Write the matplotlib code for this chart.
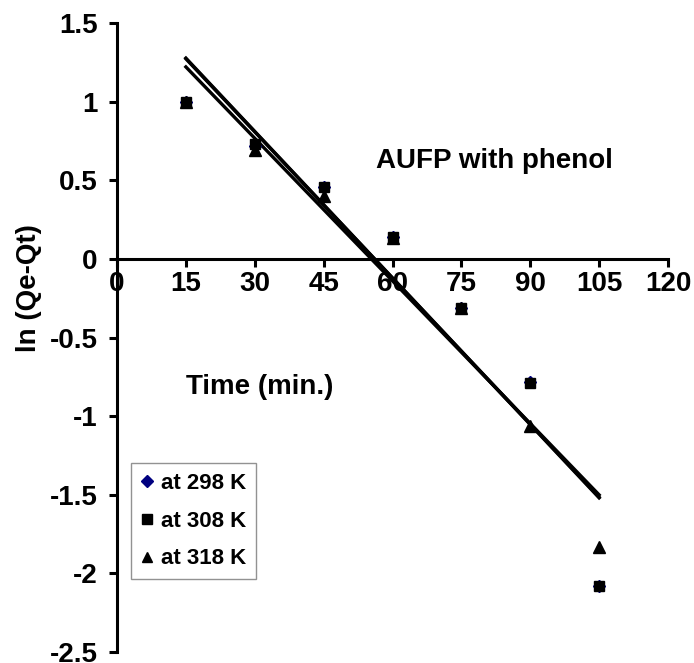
import numpy as np
import matplotlib
matplotlib.use("Agg")
import matplotlib.pyplot as plt

time = [15, 30, 45, 60, 75, 90, 105]
y298 = [1.00, 0.72, 0.46, 0.14, -0.31, -0.78, -2.08]
y308 = [1.00, 0.73, 0.46, 0.14, -0.31, -0.79, -2.08]
y318 = [1.00, 0.69, 0.40, 0.13, -0.31, -1.06, -1.83]
labels = ["at 298 K", "at 308 K", "at 318 K"]
xticks = [0, 15, 30, 45, 60, 75, 90, 105, 120]
yticks = [-2.5, -2, -1.5, -1, -0.5, 0, 0.5, 1, 1.5]
ytick_labels = ["-2.5", "-2", "-1.5", "-1", "-0.5", "0", "0.5", "1", "1.5"]

plt.rcParams['font.family'] = ['Liberation Sans', 'DejaVu Sans']
plt.rcParams['font.weight'] = 'bold'

fig = plt.figure(figsize=(6.94, 6.63), dpi=100)
ax = fig.add_axes([117/694, 11/663, 551/694, 629/663])
ax.set_xlim(0, 120)
ax.set_ylim(-2.5, 1.5)

x = np.array(time, dtype=float)
for ys in (y298, y308, y318):
    m, b = np.polyfit(x, ys, 1)
    xx = np.array([x.min(), x.max()])
    ax.plot(xx, m * xx + b, color='black', lw=2.4, zorder=2)

h1, = ax.plot(time, y298, linestyle='none', marker='D', color='#000080', ms=6.5, zorder=3, label=labels[0])
h2, = ax.plot(time, y308, linestyle='none', marker='s', color='black', ms=7.5, zorder=4, label=labels[1])
h3, = ax.plot(time, y318, linestyle='none', marker='^', color='black', ms=8, zorder=3, label=labels[2])

ax.spines['top'].set_visible(False)
ax.spines['right'].set_visible(False)
ax.spines['bottom'].set_position(('data', 0))
ax.spines['left'].set_linewidth(2.2)
ax.spines['bottom'].set_linewidth(2.2)

ax.set_xticks(xticks)
ax.set_xticklabels([str(t) for t in xticks], fontsize=20, fontweight='bold')
ax.set_yticks(yticks)
ax.set_yticklabels(ytick_labels, fontsize=20, fontweight='bold')
ax.tick_params(axis='x', direction='out', length=6, width=2.2, pad=3)
ax.tick_params(axis='y', direction='out', length=6, width=2.2, pad=8)

fig.text(29/694, 1 - 288/663, "ln (Qe-Qt)", rotation=90, ha='center', va='center',
         fontsize=20, fontweight='bold')
ax.text(82.1, 0.624, "AUFP with phenol", ha='center', va='center', fontsize=20, fontweight='bold')
ax.text(31.1, -0.815, "Time (min.)", ha='center', va='center', fontsize=20, fontweight='bold')

leg = ax.legend(handles=[h1, h2, h3], loc='upper left', bbox_to_anchor=(14/551, (652-463)/629),
                borderaxespad=0, prop={'weight': 'bold', 'size': 16},
                frameon=True, fancybox=False, handlelength=0.55, handletextpad=0.35,
                borderpad=0.45, labelspacing=0.75, markerscale=0.95)
leg.get_frame().set_edgecolor('#777777')
leg.get_frame().set_linewidth(1.0)

fig.savefig("out.png", dpi=100)
